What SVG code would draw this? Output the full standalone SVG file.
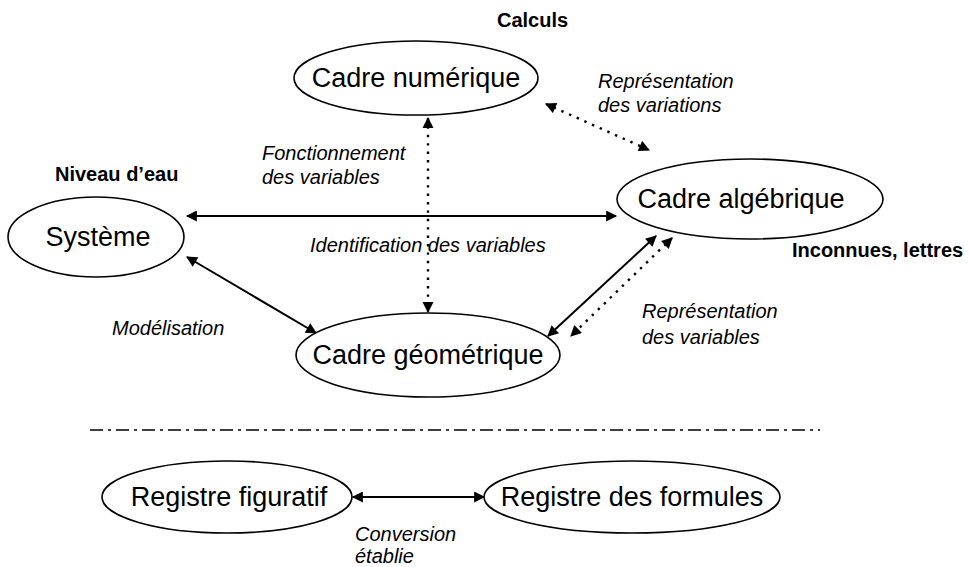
<svg xmlns="http://www.w3.org/2000/svg" width="969" height="567" viewBox="0 0 969 567">
<defs>
<style>
.node ellipse{fill:#fff;stroke:#000;stroke-width:1.6}
.nt{font-family:"Liberation Sans",Arial,sans-serif;font-size:27px;fill:#000;text-anchor:middle}
.lab{font-family:"Liberation Sans",Arial,sans-serif;font-size:20px;font-style:italic;fill:#000}
.bold{font-family:"Liberation Sans",Arial,sans-serif;font-size:20px;font-weight:bold;fill:#000}
.solid{stroke:#000;stroke-width:2;fill:none}
.dot{stroke:#000;stroke-width:2.4;fill:none;stroke-dasharray:2.4 6}
</style>
<marker id="ah" viewBox="0 0 10 10" refX="9" refY="5" markerWidth="6" markerHeight="5.5" orient="auto-start-reverse" markerUnits="strokeWidth">
<path d="M0,0 L10,5 L0,10 z" fill="#000"/>
</marker>
<marker id="ahd" viewBox="0 0 10 10" refX="9" refY="5" markerWidth="5" markerHeight="4.6" orient="auto-start-reverse" markerUnits="strokeWidth">
<path d="M0,0 L10,5 L0,10 z" fill="#000"/>
</marker>
</defs>
<rect width="969" height="567" fill="#fff"/>
<g id="connectors">
<line class="dot" x1="546" y1="104" x2="649" y2="150" marker-start="url(#ahd)" marker-end="url(#ahd)"/>
<line class="solid" x1="187" y1="216" x2="616" y2="216" marker-start="url(#ah)" marker-end="url(#ah)"/>
<line class="dot" x1="428" y1="118" x2="428" y2="312" marker-start="url(#ahd)" marker-end="url(#ahd)"/>
<line class="solid" x1="187" y1="257" x2="316" y2="333" marker-start="url(#ah)" marker-end="url(#ah)"/>
<line class="solid" x1="656" y1="236" x2="548" y2="336" marker-start="url(#ah)" marker-end="url(#ah)"/>
<line class="dot" x1="672" y1="238" x2="571" y2="336" marker-start="url(#ahd)" marker-end="url(#ahd)"/>
<line x1="90" y1="430" x2="820" y2="430" stroke="#000" stroke-width="1.4" stroke-dasharray="13 5 3 5"/>
<line class="solid" x1="353" y1="497" x2="484" y2="497" marker-start="url(#ah)" marker-end="url(#ah)"/>
</g>
<g id="numerique" class="node"><ellipse cx="416" cy="78" rx="122" ry="37"/><text class="nt" x="416" y="87">Cadre numérique</text></g>
<g id="algebrique" class="node"><ellipse cx="750" cy="199" rx="133" ry="40"/><text class="nt" x="741" y="208">Cadre algébrique</text></g>
<g id="systeme" class="node"><ellipse cx="96" cy="237" rx="88" ry="40"/><text class="nt" x="98" y="246">Système</text></g>
<g id="geometrique" class="node"><ellipse cx="428" cy="355" rx="132" ry="42"/><text class="nt" x="428" y="364">Cadre géométrique</text></g>
<g id="figuratif" class="node"><ellipse cx="227" cy="497" rx="125" ry="36"/><text class="nt" x="229" y="506">Registre figuratif</text></g>
<g id="formules" class="node"><ellipse cx="632" cy="497" rx="148" ry="36"/><text class="nt" x="632" y="506">Registre des formules</text></g>
<g id="labels">
<text class="bold" x="497" y="27">Calculs</text>
<text class="lab" x="598" y="88">Représentation</text>
<text class="lab" x="598" y="112">des variations</text>
<text class="bold" x="55" y="181">Niveau d’eau</text>
<text class="lab" x="262" y="160">Fonctionnement</text>
<text class="lab" x="262" y="184">des variables</text>
<text class="lab" x="310" y="252">Identification des variables</text>
<text class="bold" x="792" y="257">Inconnues, lettres</text>
<text class="lab" x="112" y="335">Modélisation</text>
<text class="lab" x="642" y="318">Représentation</text>
<text class="lab" x="642" y="344">des variables</text>
<text class="lab" x="355" y="541">Conversion</text>
<text class="lab" x="355" y="563">établie</text>
</g>
</svg>
